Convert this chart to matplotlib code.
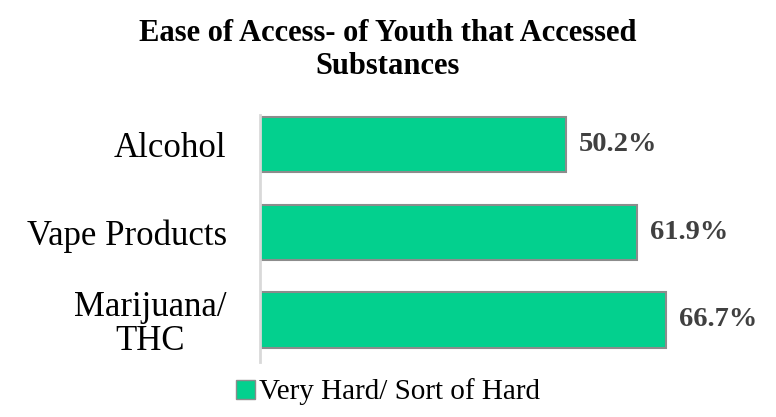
import matplotlib
matplotlib.use("Agg")
import matplotlib.pyplot as plt
from matplotlib.patches import Patch

categories = ["Alcohol", "Vape Products", "Marijuana/\nTHC"]
values = [50.2, 61.9, 66.7]
labels = ["50.2%", "61.9%", "66.7%"]
series_name = "Very Hard/ Sort of Hard"
title = "Ease of Access- of Youth that Accessed\nSubstances"

plt.rcParams['font.family'] = ['Liberation Serif', 'DejaVu Serif']

fig = plt.figure(figsize=(7.76, 4.17), dpi=100)
ax = fig.add_axes([260/776, 55/417, 490/776, 247/417])

color = "#03D08E"
edge = "#8C8C8C"
ypos = list(range(len(categories)))
ax.barh(ypos, values, height=0.63, color=color, edgecolor=edge, linewidth=1.5)
ax.set_xlim(0, 80.5)
ax.set_ylim(2.48, -0.34)
ax.set_yticks(ypos)
ax.set_yticklabels(categories, fontsize=25, color="#000000", linespacing=1.05)
for lbl in ax.get_yticklabels():
    lbl.set_multialignment("center")
ax.tick_params(axis='y', length=0, pad=24)
ax.set_xticks([])
for s in ["top", "right", "bottom"]:
    ax.spines[s].set_visible(False)
ax.spines["left"].set_color("#D9D9D9")
ax.spines["left"].set_linewidth(2)

for y, v, t in zip(ypos, values, labels):
    ax.text(v + 2.2, y, t, va="center", ha="left", fontsize=20.5, fontweight="bold", color="#404040")

fig.text(0.5, 0.88, title, ha="center", va="center", fontsize=22, fontweight="bold", linespacing=1.2)

handle = Patch(facecolor=color, edgecolor=edge, linewidth=1)
fig.legend([handle], [series_name], loc="center", bbox_to_anchor=(0.5, (417-392)/417), frameon=False,
           fontsize=21, handlelength=0.65, handleheight=0.65, handletextpad=0.15)

fig.savefig("out.png", dpi=100, facecolor="white")
